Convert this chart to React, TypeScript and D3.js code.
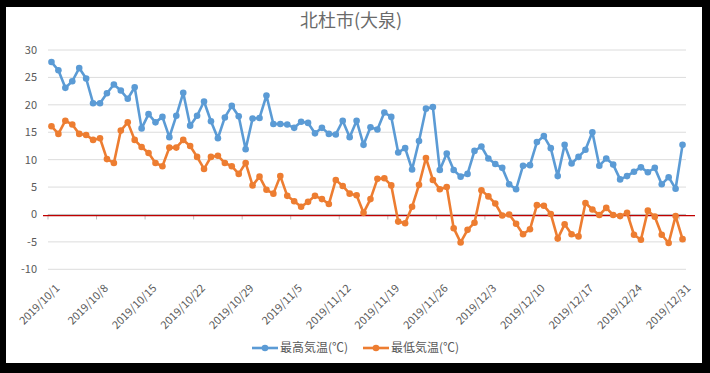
import React from 'react';
import * as d3 from 'd3';

// daily temperatures, 北杜市(大泉) 2019/10/1 - 2019/12/31
const startDate = new Date(2019, 9, 1);
const dayCount = 92;

const maxTemp = [
  27.8, 26.3, 23.1, 24.3, 26.7, 24.8, 20.3, 20.3, 22.1, 23.7,
  22.6, 21.1, 23.2, 15.7, 18.3, 16.8, 17.8, 14.1, 18.0, 22.2,
  16.2, 18.0, 20.6, 17.0, 13.9, 17.7, 19.8, 17.9, 11.9, 17.5,
  17.6, 21.7, 16.5, 16.5, 16.4, 15.8, 16.9, 16.7, 14.8, 15.8,
  14.7, 14.6, 17.1, 14.1, 17.1, 12.7, 15.9, 15.5, 18.6, 17.8,
  11.3, 12.1, 8.2, 13.4, 19.3, 19.6, 8.1, 11.1, 8.1, 6.9,
  7.4, 11.6, 12.4, 10.2, 9.2, 8.5, 5.5, 4.6, 8.9, 9.0,
  13.2, 14.3, 12.1, 7.0, 12.7, 9.3, 10.5, 11.8, 15.0, 8.9,
  10.2, 9.1, 6.4, 7.0, 7.8, 8.6, 7.7, 8.5, 5.5, 6.8,
  4.7, 12.7,
];

const minTemp = [
  16.1, 14.7, 17.1, 16.4, 14.7, 14.5, 13.6, 13.9, 10.1, 9.4,
  15.3, 16.8, 13.6, 12.3, 11.2, 9.4, 8.8, 12.2, 12.2, 13.6,
  12.5, 10.5, 8.3, 10.5, 10.7, 9.4, 8.8, 7.4, 9.4, 5.3,
  6.9, 4.5, 3.8, 7.0, 3.4, 2.4, 1.4, 2.3, 3.4, 2.8,
  1.9, 6.3, 5.2, 3.8, 3.5, 0.3, 2.8, 6.5, 6.6, 5.3,
  -1.3, -1.6, 1.4, 5.4, 10.3, 6.3, 4.6, 5.0, -2.5, -5.1,
  -2.8, -1.5, 4.4, 3.3, 2.0, -0.2, 0.0, -1.7, -3.6, -2.7,
  1.7, 1.6, 0.1, -4.4, -1.8, -3.6, -4.0, 2.1, 0.9, -0.1,
  1.2, -0.1, -0.3, 0.3, -3.7, -4.6, 0.7, -0.4, -3.7, -5.2,
  -0.3, -4.5,
];

const seriesNames = ['最高気温(℃)', '最低気温(℃)'];
const seriesColors = ['#5b9bd5', '#ed7d31'];
const yTicks = [-10, -5, 0, 5, 10, 15, 20, 25, 30];
const labelEvery = 7;
const redLineValue = -0.2;

const W = 710;
const H = 373;
const plot = { left: 48, right: 686, top: 50, bottom: 269.3 };
const font = '"Noto Sans CJK JP", "Noto Sans", sans-serif';
const textColor = '#595959';

const dates = d3.range(dayCount).map(i => d3.timeDay.offset(startDate, i));
const fmt = (d: Date) => `${d.getFullYear()}/${d.getMonth() + 1}/${d.getDate()}`;

export default function App() {
  const x = d3.scaleBand<number>().domain(d3.range(dayCount)).range([plot.left, plot.right]);
  const cx = (i: number) => (x(i) as number) + x.bandwidth() / 2;
  const y = d3.scaleLinear().domain([-10, 30]).range([plot.bottom, plot.top]);

  const lineGen = d3.line<number>().x((_, i) => cx(i)).y(v => y(v));
  const series = [maxTemp, minTemp];

  const tickIdx = d3.range(0, dayCount, labelEvery);

  return (
    <div style={{ position: 'fixed', left: 0, top: 0 }}>
      <svg width={W} height={H} style={{ display: 'block' }} fontFamily={font}>
        <rect x={0} y={0} width={W} height={H} fill="#000" />
        <rect x={6} y={7} width={696} height={356} fill="#fff" />

        <text x={351} y={27} textAnchor="middle" fontSize={18} fill="#6a6a6a">北杜市(大泉)</text>

        {/* gridlines */}
        {yTicks.map(t => (
          <line key={t} x1={plot.left} x2={plot.right} y1={y(t)} y2={y(t)} stroke="#dcdcdc" strokeWidth={1} />
        ))}
        {yTicks.map(t => (
          <text key={'l' + t} x={37} y={y(t)} dy="0.35em" textAnchor="end" fontSize={11} fill={textColor}>{t}</text>
        ))}

        {/* category axis at zero */}
        <line x1={plot.left} x2={plot.right} y1={y(0)} y2={y(0)} stroke="#bfbfbf" />
        {d3.range(0, dayCount + 1, labelEvery).map(i => {
          const px = i < dayCount ? (x(i) as number) : plot.right;
          return <line key={'t' + i} x1={px} x2={px} y1={y(0)} y2={y(0) + 5} stroke="#bfbfbf" />;
        })}
        {tickIdx.map(i => (
          <text key={'x' + i} transform={`translate(${cx(i) + 6},${plot.bottom + 17}) rotate(-45)`}
            textAnchor="end" dy="0.35em" fontSize={11} fill={textColor}>{fmt(dates[i])}</text>
        ))}

        <line x1={43} x2={695} y1={y(redLineValue)} y2={y(redLineValue)} stroke="#c00000" strokeWidth={1.2} />

        {series.map((s, k) => (
          <g key={k}>
            <path d={lineGen(s) || ''} fill="none" stroke={seriesColors[k]} strokeWidth={2.6} strokeLinejoin="round" />
            {s.map((v, i) => (
              <circle key={i} cx={cx(i)} cy={y(v)} r={3.3} fill={seriesColors[k]} />
            ))}
          </g>
        ))}

        {/* legend */}
        {seriesNames.map((n, k) => {
          const lx = 252 + k * 111;
          const ly = 348;
          return (
            <g key={n}>
              <line x1={lx} x2={lx + 26} y1={ly} y2={ly} stroke={seriesColors[k]} strokeWidth={2.6} />
              <circle cx={lx + 13} cy={ly} r={3.3} fill={seriesColors[k]} />
              <text x={lx + 28} y={ly} dy="0.35em" fontSize={12} fill={textColor}>{n}</text>
            </g>
          );
        })}
      </svg>
    </div>
  );
}
